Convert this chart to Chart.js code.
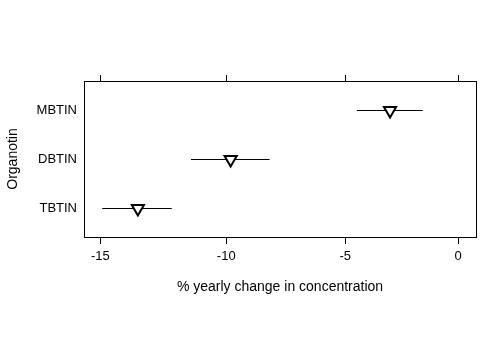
<!DOCTYPE html>
<html>
<head>
<meta charset="utf-8">
<script src="https://cdn.jsdelivr.net/npm/chart.js@4"></script>
<style>
  body { margin: 0; background: #fff; }
  canvas { display: block; }
</style>
</head>
<body>
<canvas id="chart" width="500" height="350"></canvas>
<script>
// -------------------------
// DATA (% yearly change)
// -------------------------
const organotins = ["MBTIN", "DBTIN", "TBTIN"];
const estimate = [-3.05, -9.82, -13.54];
const lower = [-4.50, -11.43, -14.93];
const upper = [-1.60, -8.21, -12.20];
const xTickLabels = [-15, -10, -5, 0];

// axis is log(1 + change/100)
const toRatio = pct => 1 + pct / 100;
const xMin = toRatio(-15.63);
const xMax = toRatio(0.81);
const yMin = 0.4184;
const yMax = 3.602;
const rowY = i => organotins.length - i;

Chart.defaults.font.family = "'Liberation Sans', Arial, sans-serif";
Chart.defaults.font.size = 13;
Chart.defaults.color = "#000";

// -------------------------
// DATASETS
// -------------------------
const datasets = [
    {
        data: estimate.map((v, i) => ({ x: toRatio(v), y: rowY(i) })),
        pointStyle: "triangle",
        rotation: 180,
        pointRadius: 7,
        pointBackgroundColor: "#fff",
        pointBorderColor: "#000",
        pointBorderWidth: 2,
        showLine: false
    }
];
organotins.forEach((name, i) => {
    datasets.push({
        data: [
            { x: toRatio(lower[i]), y: rowY(i) },
            { x: toRatio(upper[i]), y: rowY(i) }
        ],
        showLine: true,
        borderColor: "#000",
        borderWidth: 1,
        pointRadius: 0
    });
});

const setXTicks = scale => {
    scale.ticks = xTickLabels.map(v => ({ value: toRatio(v) }));
};

// -------------------------
// CHART
// -------------------------
new Chart(document.getElementById("chart"), {
    type: "scatter",
    data: { datasets: datasets },
    options: {
        responsive: false,
        animation: false,
        events: [],
        layout: { padding: 0 },
        plugins: { legend: { display: false }, tooltip: { enabled: false } },
        scales: {
            x: {
                type: "logarithmic",
                position: "bottom",
                bounds: "data",
                min: xMin,
                max: xMax,
                afterBuildTicks: setXTicks,
                afterFit: s => { s.height = 113; },
                grid: { drawOnChartArea: false, drawTicks: true, tickLength: 7, color: "#000" },
                border: { display: true, color: "#000", width: 1 },
                ticks: {
                    padding: 5,
                    maxRotation: 0,
                    callback: v => String(Math.round((v - 1) * 100))
                },
                title: {
                    display: true,
                    text: "% yearly change in concentration",
                    font: { size: 14 },
                    padding: { bottom: 54 }
                }
            },
            x2: {
                type: "logarithmic",
                position: "top",
                bounds: "data",
                min: xMin,
                max: xMax,
                afterBuildTicks: setXTicks,
                afterFit: s => { s.height = 81; },
                grid: { drawOnChartArea: false, drawTicks: true, tickLength: 6, color: "#000" },
                border: { display: true, color: "#000", width: 1 },
                ticks: { display: false }
            },
            y: {
                type: "linear",
                position: "left",
                min: yMin,
                max: yMax,
                afterBuildTicks: s => {
                    s.ticks = organotins.map((n, i) => ({ value: rowY(i) }));
                },
                afterFit: s => { s.width = 84; },
                grid: { display: false, drawTicks: false },
                border: { display: true, color: "#000", width: 1 },
                ticks: {
                    padding: 7,
                    callback: v => organotins[organotins.length - v]
                },
                title: {
                    display: true,
                    text: "Organotin",
                    font: { size: 14 },
                    padding: { top: 5 }
                }
            },
            y2: {
                type: "linear",
                position: "right",
                min: yMin,
                max: yMax,
                afterFit: s => { s.width = 24; },
                grid: { display: false, drawTicks: false },
                border: { display: true, color: "#000", width: 1 },
                ticks: { display: false }
            }
        }
    }
});
</script>
</body>
</html>
